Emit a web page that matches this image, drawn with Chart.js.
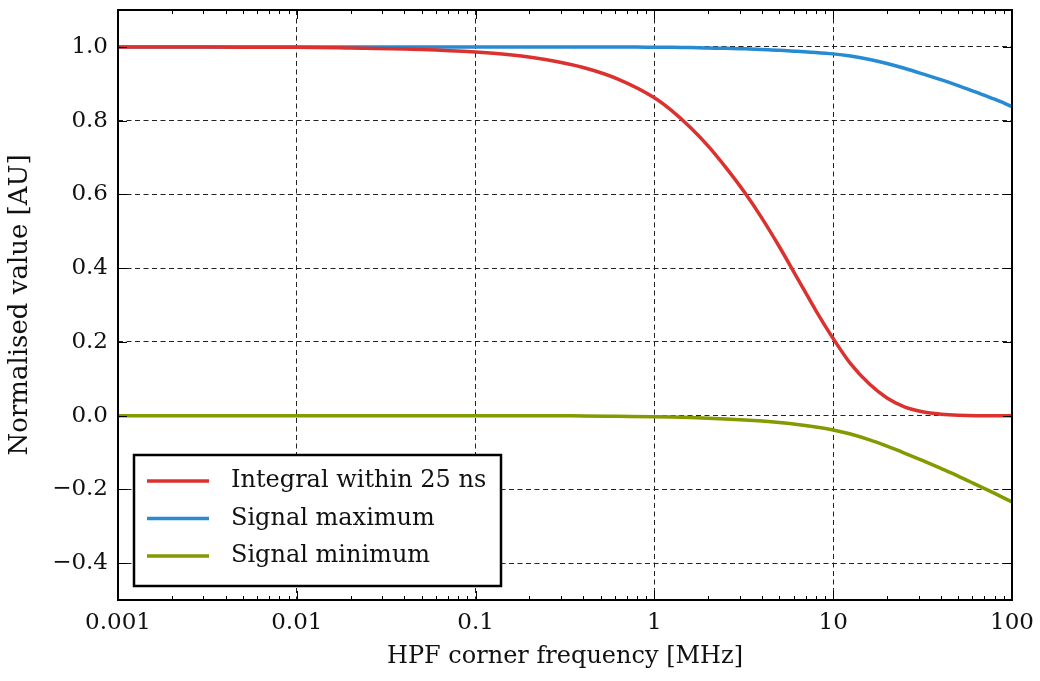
<!DOCTYPE html>
<html><head><meta charset="utf-8">
<script src="https://cdn.jsdelivr.net/npm/chart.js@4/dist/chart.umd.min.js"></script>
<style>html,body{margin:0;padding:0;background:#fff;}</style>
</head><body>
<canvas id="c" width="1040" height="681"></canvas>
<script>
const frequencies = [0.001, 0.002, 0.005, 0.01, 0.02, 0.05, 0.1, 0.16, 0.25, 0.4, 0.63, 1, 1.25, 1.6, 2, 2.5, 3.2, 4, 5, 6.3, 8, 10, 12.5, 16, 20, 25, 32, 40, 50, 63, 80, 100];
const integralValues = [1.0, 1.0, 0.999, 0.999, 0.997, 0.993, 0.986, 0.978, 0.965, 0.944, 0.912, 0.862, 0.827, 0.780, 0.731, 0.674, 0.605, 0.535, 0.458, 0.373, 0.285, 0.209, 0.141, 0.085, 0.048, 0.024, 0.010, 0.004, 0.001, 0.0, 0.0, 0.0];
const maximumValues = [1.0, 1.0, 1.0, 1.0, 1.0, 1.0, 1.0, 1.0, 1.0, 1.0, 1.0, 0.999, 0.999, 0.998, 0.997, 0.996, 0.995, 0.993, 0.991, 0.988, 0.985, 0.981, 0.975, 0.966, 0.955, 0.942, 0.926, 0.911, 0.895, 0.877, 0.858, 0.838];
const minimumValues = [0.0, 0.0, 0.0, 0.0, 0.0, 0.0, 0.0, 0.0, 0.0, -0.001, -0.002, -0.003, -0.004, -0.0054, -0.007, -0.009, -0.0118, -0.0149, -0.0188, -0.0238, -0.0306, -0.0388, -0.050, -0.066, -0.083, -0.1014, -0.1228, -0.1432, -0.164, -0.187, -0.211, -0.234];
const seriesLabels = ['Integral within 25 ns', 'Signal maximum', 'Signal minimum'];
const seriesColors = ['#dc322f', '#268bd2', '#859900'];
const xTickValues = [0.001, 0.01, 0.1, 1, 10, 100];
const xTickLabels = ['0.001', '0.01', '0.1', '1', '10', '100'];
const yTickValues = [-0.4, -0.2, 0.0, 0.2, 0.4, 0.6, 0.8, 1.0];
const xTitle = 'HPF corner frequency [MHz]';
const yTitle = 'Normalised value [AU]';

const tickFont = {family: 'DejaVu Serif', size: 23};
const legendFont = {family: 'DejaVu Serif', size: 24};
const xTitleFont = {family: 'DejaVu Serif', size: 24};
const yTitleFont = {family: 'DejaVu Serif', size: 26};

function toPoints(vals) { return frequencies.map((f, i) => ({x: f, y: vals[i]})); }
const seriesValues = [integralValues, maximumValues, minimumValues];

const framePlugin = {
  id: 'frame',
  afterDatasetsDraw(chart) {
    const {ctx, chartArea: a, scales: {x, y}} = chart;
    ctx.save();
    ctx.strokeStyle = '#000';
    ctx.lineWidth = 1;
    ctx.beginPath();
    const maj = 9, mnr = 4;
    xTickValues.forEach(v => {
      const px = Math.round(x.getPixelForValue(v)) + 0.5;
      ctx.moveTo(px, a.bottom); ctx.lineTo(px, a.bottom - maj);
      ctx.moveTo(px, a.top); ctx.lineTo(px, a.top + maj);
    });
    for (let e = -3; e < 2; e++) {
      for (let m = 2; m < 10; m++) {
        const px = Math.round(x.getPixelForValue(m * Math.pow(10, e))) + 0.5;
        ctx.moveTo(px, a.bottom); ctx.lineTo(px, a.bottom - mnr);
        ctx.moveTo(px, a.top); ctx.lineTo(px, a.top + mnr);
      }
    }
    yTickValues.forEach(v => {
      const py = Math.round(y.getPixelForValue(v)) + 0.5;
      ctx.moveTo(a.left, py); ctx.lineTo(a.left + maj, py);
      ctx.moveTo(a.right, py); ctx.lineTo(a.right - maj, py);
    });
    ctx.stroke();
    ctx.lineWidth = 2;
    ctx.strokeRect(a.left, a.top, a.right - a.left, a.bottom - a.top);

    // legend
    const bx = a.left + 16, by = a.bottom - 145, bw = 367, bh = 131;
    ctx.fillStyle = '#fff';
    ctx.fillRect(bx, by, bw, bh);
    ctx.lineWidth = 2.5;
    ctx.strokeStyle = '#000';
    ctx.strokeRect(bx, by, bw, bh);
    ctx.font = legendFont.size + 'px "' + legendFont.family + '"';
    ctx.textBaseline = 'middle';
    ctx.textAlign = 'left';
    chart.data.datasets.forEach((ds, i) => {
      const ly = by + 26 + i * 37.5;
      ctx.strokeStyle = ds.borderColor;
      ctx.lineWidth = 3.5;
      ctx.beginPath();
      ctx.moveTo(bx + 13, ly); ctx.lineTo(bx + 75, ly);
      ctx.stroke();
      ctx.fillStyle = '#111';
      ctx.fillText(ds.label, bx + 97, ly);
    });
    ctx.restore();
  }
};

new Chart(document.getElementById('c'), {
  type: 'line',
  data: {
    datasets: seriesLabels.map((lab, i) => ({
      label: lab,
      data: toPoints(seriesValues[i]),
      borderColor: seriesColors[i],
      backgroundColor: seriesColors[i],
      borderWidth: 3.5,
      pointRadius: 0,
      cubicInterpolationMode: 'monotone',
      fill: false
    }))
  },
  options: {
    responsive: false,
    animation: false,
    devicePixelRatio: 1,
    layout: {padding: {top: 10, right: 28, bottom: 0, left: 0}},
    plugins: {legend: {display: false}, tooltip: {enabled: false}},
    scales: {
      x: {
        type: 'logarithmic',
        min: 0.001, max: 100,
        afterBuildTicks: s => { s.ticks = xTickValues.map(v => ({value: v})); },
        afterFit: s => { s.height = 81; s.paddingLeft = 0; s.paddingRight = 0; },
        ticks: {
          callback: (v, i) => xTickLabels[i],
          font: tickFont, color: '#111', padding: 9, maxRotation: 0, autoSkip: false
        },
        grid: {color: '#222', lineWidth: 1, drawTicks: false},
        border: {display: false, dash: [5, 3.5]},
        title: {display: true, text: xTitle, font: xTitleFont, color: '#111', padding: {top: 0, bottom: 10}}
      },
      y: {
        type: 'linear',
        min: -0.5, max: 1.1,
        afterBuildTicks: s => { s.ticks = yTickValues.map(v => ({value: v})); },
        afterFit: s => { s.width = 118; s.paddingTop = 0; s.paddingBottom = 0; },
        ticks: {
          callback: v => v.toFixed(1).replace('-', '\u2212'),
          font: tickFont, color: '#111', padding: 10
        },
        grid: {color: '#222', lineWidth: 1, drawTicks: false},
        border: {display: false, dash: [5, 3.5]},
        title: {display: true, text: yTitle, font: yTitleFont, color: '#111', padding: {top: 5, bottom: 0}}
      }
    }
  },
  plugins: [framePlugin]
});
</script>
</body></html>
